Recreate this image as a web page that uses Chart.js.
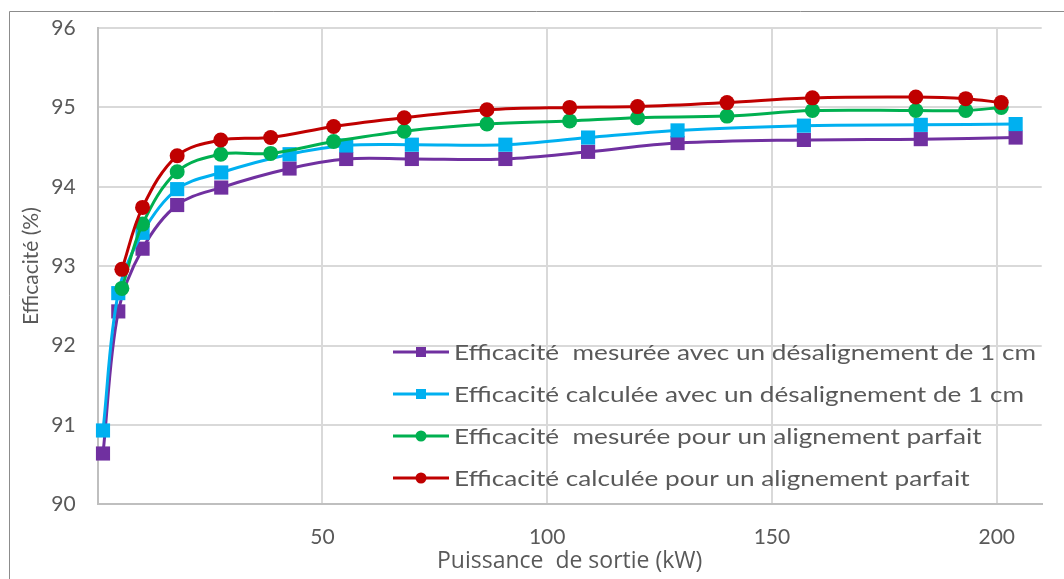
<!DOCTYPE html>
<html>
<head>
<meta charset="utf-8">
<script src="https://cdn.jsdelivr.net/npm/chart.js@4/dist/chart.umd.min.js"></script>
<style>
  html, body { margin: 0; padding: 0; background: #ffffff; }
  #c { display: block; }
</style>
</head>
<body>
<canvas id="c" width="1064" height="579"></canvas>
<script>
// ---- Data ----
const seriesNames = [
  "Efficacité  mesurée avec un désalignement de 1 cm",
  "Efficacité calculée avec un désalignement de 1 cm",
  "Efficacité  mesurée pour un alignement parfait",
  "Efficacité calculée pour un alignement parfait"
];
// output power (kW), misaligned series
const xMisaligned = [1.2, 4.6, 10.0, 17.7, 27.5, 42.7, 55.3, 69.9, 90.7, 109.1, 129.0, 157.1, 183.1, 204.2];
const effMeasuredMis = [90.64, 92.43, 93.22, 93.77, 93.99, 94.23, 94.35, 94.35, 94.35, 94.44, 94.55, 94.59, 94.60, 94.62];
const effCalcMis     = [90.93, 92.66, 93.42, 93.97, 94.18, 94.41, 94.52, 94.53, 94.53, 94.62, 94.71, 94.77, 94.78, 94.79];
// output power (kW), aligned series
const xAligned = [5.4, 10.0, 17.7, 27.4, 38.5, 52.5, 68.2, 86.6, 105.0, 120.1, 140.0, 159.0, 182.0, 193.1, 201.0];
const effMeasuredAl = [92.72, 93.53, 94.19, 94.41, 94.42, 94.57, 94.70, 94.79, 94.83, 94.87, 94.89, 94.96, 94.96, 94.96, 95.00];
const effCalcAl     = [92.96, 93.74, 94.39, 94.59, 94.62, 94.76, 94.87, 94.97, 95.00, 95.01, 95.06, 95.12, 95.13, 95.11, 95.06];
const xTickStep = 50;
const yTickStep = 1;
const xTitle = "Puissance  de sortie (kW)";
const yTitle = "Efficacité (%)";

// ---- Styles ----
const FONT = "Lato, 'Open Sans', sans-serif";
const FONT_WIDE = "'Open Sans', Lato, sans-serif";
const TEXT = "#595959";
const colors = ["#7030A0", "#00B0F0", "#00B050", "#C00000"];
const shapes = ["rect", "rect", "circle", "circle"];
const radii  = [10, 10, 7.5, 7.5];

const pts = (xs, ys) => xs.map((x, i) => ({ x: x, y: ys[i] }));
const seriesData = [
  pts(xMisaligned, effMeasuredMis),
  pts(xMisaligned, effCalcMis),
  pts(xAligned, effMeasuredAl),
  pts(xAligned, effCalcAl)
];

const datasets = seriesData.map((d, i) => ({
  label: seriesNames[i],
  data: d,
  borderColor: colors[i],
  backgroundColor: colors[i],
  borderWidth: 3,
  pointStyle: shapes[i],
  pointRadius: radii[i],
  pointBorderWidth: 0,
  pointBackgroundColor: colors[i],
  tension: 0.35,
  order: 4 - i,
  clip: false
}));

// outer frame of the chart object
const framePlugin = {
  id: 'frame',
  beforeDraw(chart) {
    const ctx = chart.ctx;
    ctx.save();
    ctx.fillStyle = '#ffffff';
    ctx.fillRect(0, 0, chart.width, chart.height);
    ctx.strokeStyle = '#8c8c8c';
    ctx.lineWidth = 1;
    ctx.beginPath();
    ctx.moveTo(9.5, chart.height);
    ctx.lineTo(9.5, 11.5);
    ctx.lineTo(chart.width, 11.5);
    ctx.stroke();
    ctx.restore();
  }
};

// legend drawn inside the plot area, from the datasets
const insideLegend = {
  id: 'insideLegend',
  afterDraw(chart) {
    const ctx = chart.ctx;
    const x0 = 393, x1 = 449, tx = 454;
    const rows = [352, 394, 436, 478];
    ctx.save();
    ctx.font = "22px " + FONT;
    ctx.textBaseline = 'middle';
    ctx.textAlign = 'left';
    const sx = 582 / ctx.measureText(chart.data.datasets[0].label).width;
    chart.data.datasets.forEach((ds, i) => {
      const y = rows[i];
      ctx.strokeStyle = ds.borderColor;
      ctx.lineWidth = 3;
      ctx.beginPath();
      ctx.moveTo(x0, y);
      ctx.lineTo(x1, y);
      ctx.stroke();
      ctx.fillStyle = ds.borderColor;
      const mx = (x0 + x1) / 2;
      if (ds.pointStyle === 'rect') {
        ctx.fillRect(mx - 5, y - 5, 10, 10);
      } else {
        ctx.beginPath();
        ctx.arc(mx, y, 5.5, 0, Math.PI * 2);
        ctx.fill();
      }
      ctx.save();
      ctx.translate(tx, y + 1);
      ctx.scale(sx, 1);
      ctx.fillStyle = TEXT;
      ctx.fillText(ds.label, 0, 0);
      ctx.restore();
    });
    ctx.restore();
  }
};

new Chart(document.getElementById('c'), {
  type: 'line',
  data: { datasets: datasets },
  options: {
    responsive: false,
    animation: false,
    devicePixelRatio: 1,
    layout: { padding: { top: 28, right: 22.3, left: 0, bottom: 0 } },
    plugins: { legend: { display: false }, tooltip: { enabled: false } },
    scales: {
      x: {
        type: 'linear',
        min: 0,
        max: 210,
        ticks: {
          stepSize: xTickStep,
          includeBounds: false,
          padding: 20,
          color: TEXT,
          font: { family: FONT, size: 21 },
          maxRotation: 0,
          callback: (v) => (v === 0 ? '' : v)
        },
        grid: { color: '#d9d9d9', lineWidth: 2, drawTicks: false },
        border: { color: '#bfbfbf', width: 2 },
        title: {
          display: true,
          text: xTitle,
          color: TEXT,
          font: { family: FONT_WIDE, size: 23 },
          padding: { top: 0, bottom: 4 }
        },
        afterFit: (s) => { s.height = 74.7; s.paddingLeft = 0; s.paddingRight = 0; }
      },
      y: {
        min: 90,
        max: 96,
        ticks: {
          stepSize: yTickStep,
          padding: 22,
          color: TEXT,
          font: { family: FONT, size: 21 }
        },
        grid: { color: '#d9d9d9', lineWidth: 2, drawTicks: false },
        border: { color: '#bfbfbf', width: 2 },
        title: {
          display: true,
          text: yTitle,
          color: TEXT,
          font: { family: FONT, size: 21 },
          padding: { top: 19, bottom: 0 }
        },
        afterFit: (s) => { s.width = 97.6; s.paddingTop = 0; s.paddingBottom = 0; }
      }
    }
  },
  plugins: [framePlugin, insideLegend]
});
</script>
</body>
</html>
